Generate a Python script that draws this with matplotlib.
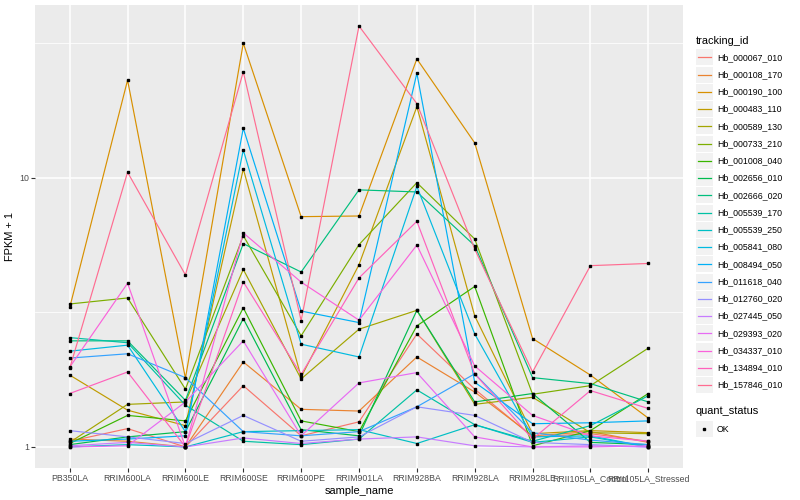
import numpy as np
import matplotlib
matplotlib.use("Agg")
import matplotlib.pyplot as plt
from matplotlib.patches import Rectangle
from matplotlib.ticker import FixedLocator, NullFormatter

plt.rcParams['font.family'] = ['Liberation Sans', 'DejaVu Sans']

samples = ["PB350LA", "RRIM600LA", "RRIM600LE", "RRIM600SE", "RRIM600PE",
           "RRIM901LA", "RRIM928BA", "RRIM928LA", "RRIM928LE",
           "RRII105LA_Control", "RRII105LA_Stressed"]

tracking_ids = ["Hb_000067_010", "Hb_000108_170", "Hb_000190_100", "Hb_000483_110",
                "Hb_000589_130", "Hb_000733_210", "Hb_001008_040", "Hb_002656_010",
                "Hb_002666_020", "Hb_005539_170", "Hb_005539_250", "Hb_005841_080",
                "Hb_008494_050", "Hb_011618_040", "Hb_012760_020", "Hb_027445_050",
                "Hb_029393_020", "Hb_034337_010", "Hb_134894_010", "Hb_157846_010"]

# ggplot default hue palette, 20 levels
colors = ["#F8766D", "#EA8331", "#D89000", "#C09B00", "#A3A500", "#7CAE00",
          "#39B600", "#00BB4E", "#00BF7D", "#00C1A3", "#00BFC4", "#00BAE0",
          "#00B0F6", "#35A2FF", "#9590FF", "#C77CFF", "#E76BF3", "#FA62DB",
          "#FF62BC", "#FF6C91"]

# FPKM + 1 per gene, in sample order
hb_000067_010 = [1.05, 1.17, 1.00, 1.69, 1.10, 1.24, 2.63, 1.64, 1.09, 1.12, 1.05]
hb_000108_170 = [1.07, 1.05, 1.00, 2.07, 1.38, 1.36, 2.16, 1.60, 1.10, 1.14, 1.04]
hb_000190_100 = [3.30, 23.1, 1.80, 31.7, 7.18, 7.22, 27.7, 13.5, 2.53, 1.85, 1.28]
hb_000483_110 = [1.85, 1.37, 1.20, 10.8, 1.82, 4.76, 18.4, 3.07, 1.12, 1.15, 1.13]
hb_000589_130 = [1.04, 1.44, 1.47, 4.57, 1.79, 2.74, 3.22, 1.44, 1.53, 1.13, 1.12]
hb_000733_210 = [3.40, 3.58, 1.64, 6.10, 2.59, 5.65, 9.60, 5.93, 1.57, 1.69, 2.33]
hb_001008_040 = [1.03, 1.31, 1.25, 3.29, 1.25, 1.14, 2.82, 3.95, 1.01, 1.15, 1.58]
hb_002656_010 = [1.02, 1.09, 1.14, 3.00, 1.16, 1.10, 3.22, 1.47, 1.58, 1.04, 1.02]
hb_002666_020 = [2.48, 2.48, 1.49, 5.70, 4.47, 9.03, 8.87, 5.60, 1.81, 1.72, 1.47]
hb_005539_170 = [2.55, 2.44, 1.43, 1.05, 1.02, 1.07, 1.63, 1.21, 1.05, 1.20, 1.55]
hb_005539_250 = [1.00, 1.02, 1.00, 1.14, 1.15, 1.16, 1.03, 1.21, 1.04, 1.09, 1.00]
hb_005841_080 = [2.27, 2.39, 1.14, 12.7, 2.41, 2.16, 9.30, 2.63, 1.09, 1.10, 1.00]
hb_008494_050 = [1.05, 1.07, 1.10, 15.3, 3.20, 2.90, 24.5, 1.74, 1.22, 1.23, 1.25]
hb_011618_040 = [2.14, 2.22, 1.81, 1.14, 1.10, 1.14, 1.41, 1.87, 1.13, 1.06, 1.02]
hb_012760_020 = [1.15, 1.09, 1.03, 1.31, 1.05, 1.09, 1.41, 1.31, 1.04, 1.02, 1.00]
hb_027445_050 = [1.01, 1.04, 1.00, 1.08, 1.03, 1.07, 1.09, 1.01, 1.00, 1.01, 1.00]
hb_029393_020 = [1.00, 1.01, 1.47, 2.48, 1.10, 1.73, 1.89, 1.09, 1.00, 1.00, 1.01]
hb_034337_010 = [1.98, 4.06, 1.00, 6.25, 4.10, 2.96, 5.63, 2.00, 1.31, 1.10, 1.05]
hb_134894_010 = [1.58, 1.90, 1.00, 4.11, 1.86, 4.25, 6.90, 1.87, 1.07, 1.62, 1.39]
hb_157846_010 = [1.96, 10.5, 4.36, 24.8, 2.95, 36.7, 18.9, 5.44, 1.90, 4.72, 4.81]

series = [hb_000067_010, hb_000108_170, hb_000190_100, hb_000483_110, hb_000589_130,
          hb_000733_210, hb_001008_040, hb_002656_010, hb_002666_020, hb_005539_170,
          hb_005539_250, hb_005841_080, hb_008494_050, hb_011618_040, hb_012760_020,
          hb_027445_050, hb_029393_020, hb_034337_010, hb_134894_010, hb_157846_010]

W, H = 800, 500
fig = plt.figure(figsize=(8, 5), dpi=100)
fig.patch.set_facecolor("white")

# panel in pixel coords
pl, pr, pt, pb = 35, 683, 5, 468
ax = fig.add_axes([pl / W, 1 - pb / H, (pr - pl) / W, (pb - pt) / H])
ax.set_facecolor("#EBEBEB")
for s in ax.spines.values():
    s.set_visible(False)

x = np.arange(len(samples))
for vals, col in zip(series, colors):
    ax.plot(x, vals, color=col, lw=0.85, zorder=3)
for vals in series:
    ax.plot(x, vals, ls="none", marker="s", ms=2.1, color="black", zorder=4)

ax.set_yscale("log")
allv = np.concatenate([np.log10(v) for v in series])
lo, hi = allv.min(), allv.max()
pad = 0.05 * (hi - lo)
ax.set_ylim(10 ** (lo - pad), 10 ** (hi + pad))
ax.set_xlim(-0.6, len(samples) - 1 + 0.6)

ax.yaxis.set_major_locator(FixedLocator([1, 10]))
ax.set_yticklabels(["1", "10"])
ax.yaxis.set_minor_locator(FixedLocator([10 ** 0.5, 10 ** 1.5]))
ax.yaxis.set_minor_formatter(NullFormatter())
ax.set_xticks(x)
ax.set_xticklabels(samples)

ax.grid(True, which="major", color="white", lw=1.1, zorder=0)
ax.grid(True, which="minor", axis="y", color="white", lw=0.55, zorder=0)
ax.set_axisbelow(True)
ax.tick_params(axis="both", which="major", length=2.7, width=0.8, color="#333333",
               labelsize=6.3, labelcolor="#4D4D4D", pad=1.5)
ax.tick_params(axis="y", which="minor", length=0)

ax.set_xlabel("sample_name", fontsize=7.9, labelpad=2)
ax.set_ylabel("FPKM + 1", fontsize=7.9, labelpad=3)

# legend drawn in pixel space on the right
lax = fig.add_axes([0, 0, 1, 1], zorder=-1)
lax.set_xlim(0, W)
lax.set_ylim(H, 0)
lax.axis("off")

lx = 696
lax.text(lx, 40.5, "tracking_id", fontsize=7.9, va="center", ha="left")
y0, step = 57.3, 17.25
for i, (tid, col) in enumerate(zip(tracking_ids, colors)):
    yc = y0 + i * step
    lax.add_patch(Rectangle((lx, yc - 8), 16.5, 16, facecolor="#F2F2F2", edgecolor="none"))
    lax.plot([lx + 1.5, lx + 15], [yc, yc], color=col, lw=0.9)
    lax.text(lx + 21, yc, tid, fontsize=6.3, va="center", ha="left")

lax.text(lx, 411.5, "quant_status", fontsize=7.9, va="center", ha="left")
yc = 429
lax.add_patch(Rectangle((lx, yc - 8), 16.5, 16, facecolor="#F2F2F2", edgecolor="none"))
lax.plot([lx + 8.25], [yc], ls="none", marker="s", ms=2.1, color="black")
lax.text(lx + 21, yc, "OK", fontsize=6.3, va="center", ha="left")

fig.savefig("out.png", dpi=100)
